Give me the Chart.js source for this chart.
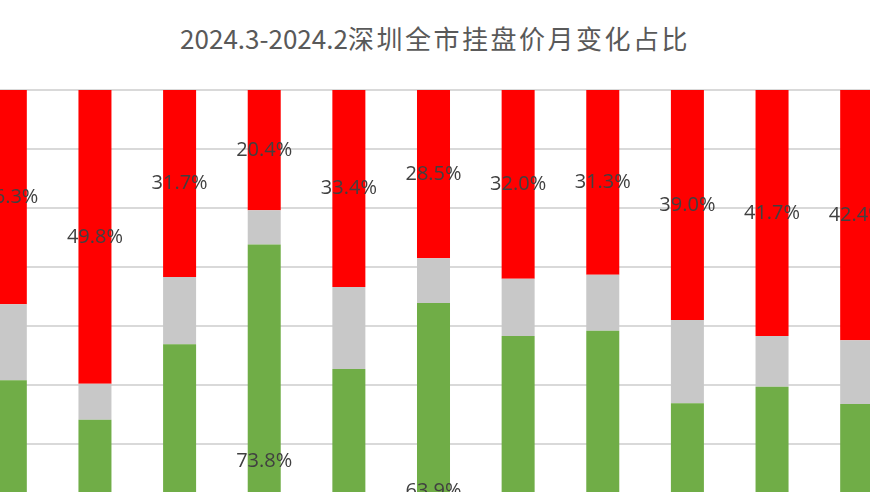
<!DOCTYPE html>
<html>
<head>
<meta charset="utf-8">
<script src="https://cdn.jsdelivr.net/npm/chart.js@4.4.1/dist/chart.umd.min.js"></script>
<style>
  html, body { margin: 0; padding: 0; width: 870px; height: 492px; overflow: hidden; background: #fff; }
  #title {
    position: absolute; left: 0; top: 18px; width: 870px; text-align: center;
    font-family: "Noto Sans CJK SC", sans-serif; font-size: 26px; color: #595959;
    line-height: 40px; white-space: nowrap;
  }
  #title .cjk { letter-spacing: 2.5px; }
  #wrap { position: absolute; left: -32px; top: 0; width: 931px; height: 690px; }
</style>
</head>
<body>
<div id="title">2024.3-2024.2<span class="cjk">深圳全市挂盘价月变化占比</span></div>
<div id="wrap"><canvas id="chart"></canvas></div>
<script>
// months shown (axis labels are below the visible area)
const months = ["2023.4", "2023.5", "2023.6", "2023.7", "2023.8", "2023.9", "2023.10", "2023.11", "2023.12", "2024.1", "2024.2"];

// share of listings, %
const fallShare = [50.8, 44.1, 56.9, 73.8, 52.7, 63.9, 58.3, 59.2, 46.9, 49.7, 46.8];
const flatShare = [12.9, 6.1, 11.4, 5.8, 13.9, 7.6, 9.7, 9.5, 14.1, 8.6, 10.8];
const riseShare = [36.3, 49.8, 31.7, 20.4, 33.4, 28.5, 32.0, 31.3, 39.0, 41.7, 42.4];

const yTicks = [0, 10, 20, 30, 40, 50, 60, 70, 80, 90, 100];

// draw % labels in the middle of the red and green pieces
const segLabels = {
  id: "segLabels",
  afterDatasetsDraw(chart) {
    const ctx = chart.ctx;
    ctx.save();
    ctx.font = '20px "Open Sans", sans-serif';
    ctx.fillStyle = "#404040";
    ctx.textAlign = "center";
    ctx.textBaseline = "middle";
    [0, 2].forEach(di => {
      const meta = chart.getDatasetMeta(di);
      const data = chart.data.datasets[di].data;
      meta.data.forEach((bar, i) => {
        const mid = (bar.y + bar.base) / 2;
        ctx.fillText(data[i].toFixed(1) + "%", bar.x, mid);
      });
    });
    ctx.restore();
  }
};

new Chart(document.getElementById("chart"), {
  type: "bar",
  data: {
    labels: months,
    datasets: [
      { label: "下跌", data: fallShare, backgroundColor: "#70ad47" },
      { label: "持平", data: flatShare, backgroundColor: "#c8c8c8" },
      { label: "上涨", data: riseShare, backgroundColor: "#ff0000" }
    ]
  },
  options: {
    responsive: true,
    maintainAspectRatio: false,
    animation: false,
    layout: { padding: { top: 90, bottom: 10, left: 0, right: 0 } },
    datasets: { bar: { categoryPercentage: 1, barPercentage: 0.39, borderWidth: 0 } },
    scales: {
      x: { stacked: true, display: false },
      y: {
        stacked: true,
        min: 0,
        max: 100,
        afterBuildTicks: axis => { axis.ticks = yTicks.map(v => ({ value: v })); },
        ticks: { display: false },
        border: { display: false },
        grid: { color: "#d9d9d9", lineWidth: 2, drawTicks: false }
      }
    },
    plugins: {
      legend: { display: false },
      title: { display: false },
      tooltip: { enabled: false }
    }
  },
  plugins: [segLabels]
});
</script>
</body>
</html>
